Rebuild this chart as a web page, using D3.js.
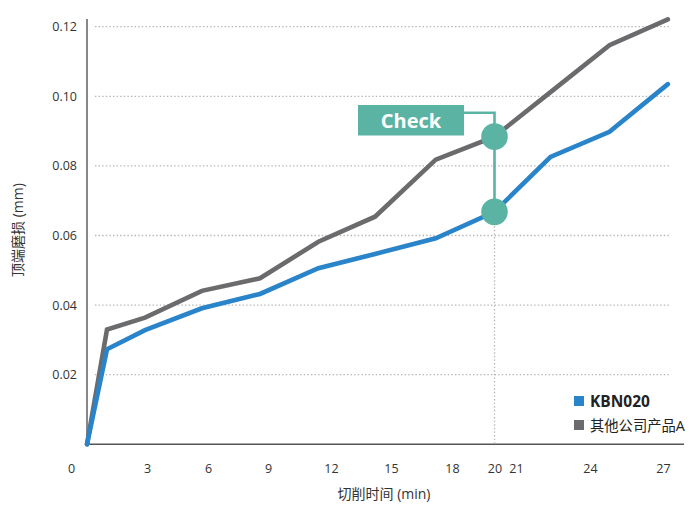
<!DOCTYPE html>
<html>
<head>
<meta charset="utf-8">
<script src="https://cdn.jsdelivr.net/npm/d3@7"></script>
<style>
  html, body { margin: 0; padding: 0; background: #fff; }
  svg { display: block; }
  text { font-family: "Open Sans", "Noto Sans CJK SC", sans-serif; }
</style>
</head>
<body>
<svg id="chart" width="690" height="506"></svg>
<script>
// Cutting time (min) of each measurement
const times = [0, 1, 2.9, 5.7, 8.6, 11.4, 14.2, 17.2, 20, 22.4, 24.8, 27.2];
// Flank wear (mm)
const kbn020 = [0, 0.0273, 0.0328, 0.0391, 0.0432, 0.0506, 0.0547, 0.0592, 0.0668, 0.0826, 0.0898, 0.1035];
const competitorA = [0, 0.0330, 0.0364, 0.0441, 0.0477, 0.0582, 0.0654, 0.0818, 0.0884, 0.1012, 0.1147, 0.1221];
const seriesNames = ["KBN020", "其他公司产品A"];
const xTicks = [0, 3, 6, 9, 12, 15, 18, 20, 21, 24, 27];
const yTicks = [0.02, 0.04, 0.06, 0.08, 0.10, 0.12];
const checkTime = 20;
const checkLabel = "Check";

const svg = d3.select("#chart");
const blue = "#2a84c9", grey = "#6b6b6e", teal = "#5ab3a3";

// piecewise time axis following the printed tick spacing
const x = d3.scaleLinear()
  .domain(xTicks)
  .range([87, 147, 208, 268, 331, 391, 452, 494.5, 516, 590, 663]);
const y = d3.scaleLinear().domain([0, 0.12]).range([444.3, 26.7]);

// dotted gridlines
svg.append("g").selectAll("line").data(yTicks).join("line")
  .attr("x1", 95).attr("x2", 670)
  .attr("y1", d => y(d)).attr("y2", d => y(d))
  .attr("stroke", "#b5b5b5").attr("stroke-width", 1.3)
  .attr("stroke-dasharray", "1.4 2.2");

// y axis
const yAxis = svg.append("g").attr("transform", `translate(${x(0)},0)`)
  .call(d3.axisLeft(y).tickValues(yTicks).tickSize(0).tickPadding(10)
    .tickFormat(d3.format(".2f")));
yAxis.select(".domain").remove();
yAxis.selectAll("text").attr("font-size", 12.5).attr("fill", "#333")
  .attr("font-family", "'Open Sans', sans-serif");

// x axis
const xAxis = svg.append("g").attr("transform", `translate(0,${y(0)})`)
  .call(d3.axisBottom(x).tickValues(xTicks.slice(1)).tickSize(0).tickPadding(20)
    .tickFormat(d3.format("d")));
xAxis.select(".domain").remove();
xAxis.selectAll("text").attr("font-size", 12.5).attr("fill", "#333")
  .attr("font-family", "'Open Sans', sans-serif");
// origin label
svg.append("text").attr("x", x(0) - 15.5).attr("y", y(0) + 29)
  .attr("text-anchor", "middle").attr("font-size", 12.5).attr("fill", "#333")
  .text("0");

// axis lines
svg.append("line").attr("x1", x(0)).attr("x2", x(0)).attr("y1", 19).attr("y2", y(0))
  .attr("stroke", "#555").attr("stroke-width", 1.4);
svg.append("line").attr("x1", x(0)).attr("x2", 684).attr("y1", y(0)).attr("y2", y(0))
  .attr("stroke", "#555").attr("stroke-width", 1.4);

// axis titles
svg.append("text").attr("x", 384).attr("y", 499).attr("text-anchor", "middle")
  .attr("font-size", 14).attr("fill", "#333").text("切削时间 (min)");
svg.append("text").attr("transform", "translate(22.5,230) rotate(-90)")
  .attr("text-anchor", "middle").attr("font-size", 14).attr("fill", "#333")
  .text("顶端磨损 (mm)");

// check marker guide down to the time axis
const ci = times.indexOf(checkTime);
svg.append("line").attr("x1", x(checkTime)).attr("x2", x(checkTime))
  .attr("y1", y(kbn020[ci])).attr("y2", y(0))
  .attr("stroke", "#b5b5b5").attr("stroke-width", 1.3).attr("stroke-dasharray", "1.4 2.2");

// wear curves
const line = d3.line().x((d, i) => x(times[i])).y(d => y(d));
[[competitorA, grey], [kbn020, blue]].forEach(([vals, col]) => {
  svg.append("path").datum(vals).attr("d", line)
    .attr("fill", "none").attr("stroke", col).attr("stroke-width", 4.6)
    .attr("stroke-linejoin", "miter").attr("stroke-linecap", "round");
});

// check callout
const cx = x(checkTime), gy = y(competitorA[ci]), by = y(kbn020[ci]);
svg.append("path")
  .attr("d", `M464,112.7 H${cx} V${by}`)
  .attr("fill", "none").attr("stroke", teal).attr("stroke-width", 2.6);
svg.append("rect").attr("x", 358).attr("y", 105).attr("width", 106).attr("height", 30.5)
  .attr("fill", teal);
svg.append("text").attr("x", 411).attr("y", 127.5).attr("text-anchor", "middle")
  .attr("font-size", 20).attr("font-weight", 700).attr("fill", "#fff").text(checkLabel);
svg.selectAll("circle.chk").data([gy, by]).join("circle").attr("class", "chk")
  .attr("cx", cx).attr("cy", d => d).attr("r", 13.3).attr("fill", teal);

// legend
const legend = svg.append("g");
[[seriesNames[0], blue, 700, 15.5], [seriesNames[1], grey, 400, 14.3]].forEach(([name, col, w, fs], i) => {
  const ly = 401 + i * 24;
  legend.append("rect").attr("x", 574).attr("y", ly - 5).attr("width", 10).attr("height", 10)
    .attr("fill", col);
  legend.append("text").attr("x", 590).attr("y", ly + 5.5)
    .attr("font-size", fs).attr("font-weight", w).attr("fill", "#222")
    .text(name);
});
</script>
</body>
</html>
